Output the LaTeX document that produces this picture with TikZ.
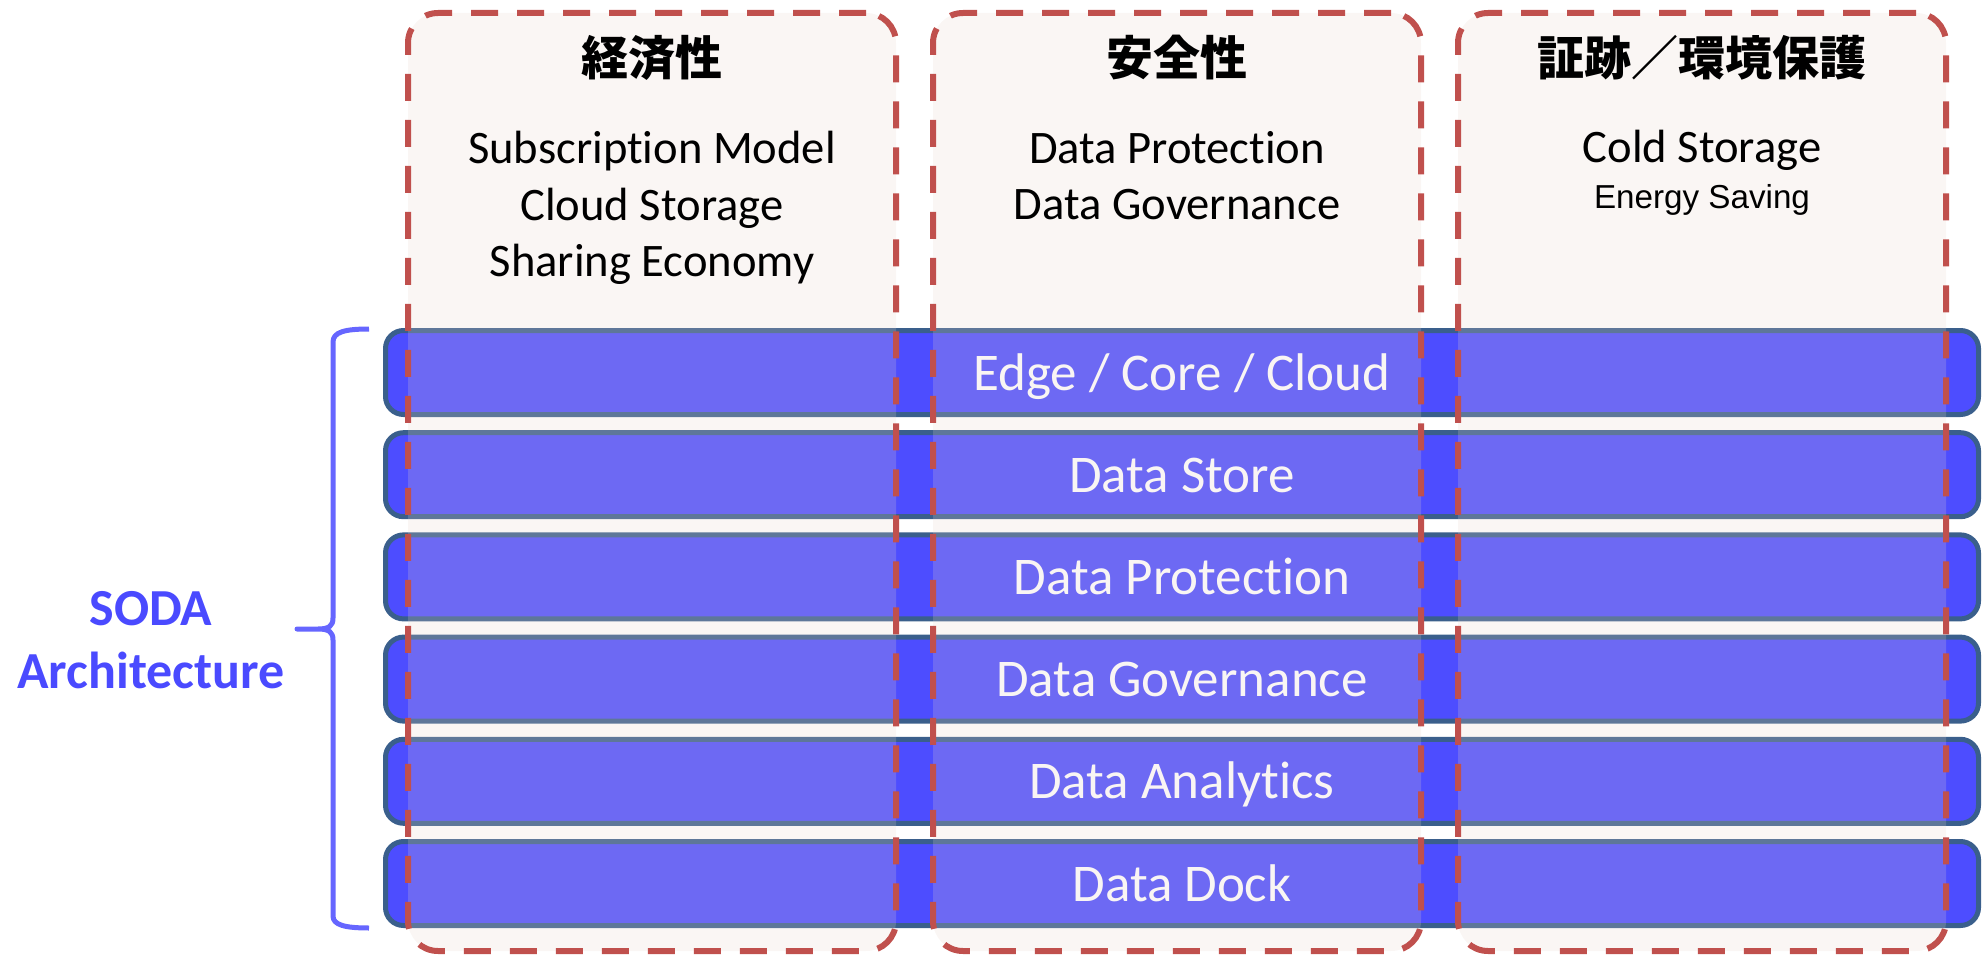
\documentclass[tikz,border=0pt]{standalone}
\usepackage{fontspec}
\setmainfont{Carlito}[Ligatures={NoCommon}]
\newfontfamily\cjkfont{Noto Sans CJK JP}
\newfontfamily\arialfont{Liberation Sans}

\definecolor{barblue}{RGB}{77,77,255}
\definecolor{barline}{RGB}{58,95,140}
\definecolor{dashred}{RGB}{192,80,77}
\definecolor{colfill}{RGB}{231,212,203}
\definecolor{bracecol}{RGB}{102,102,255}
\definecolor{sodablue}{RGB}{74,74,255}

\tikzset{
  layerbar/.style={draw=barline, line width=2.5pt, fill=barblue,
    rounded corners=9pt, minimum width=796.5pt, minimum height=42pt,
    inner sep=0pt, text=white, font=\fontsize{26.5}{32}\selectfont,
    text height=17.5pt, text depth=0pt},
  colbox/.style={draw=dashred, line width=3pt, dash pattern=on 13.5pt off 9.5pt,
    fill=colfill, fill opacity=0.21, rounded corners=15pt,
    minimum width=244pt, minimum height=469pt, inner sep=0pt},
  colhead/.style={anchor=base, inner sep=0pt, font=\cjkfont\bfseries\fontsize{23.5}{28}\selectfont},
  colitem/.style={anchor=base, inner sep=0pt, font=\fontsize{23.3}{28}\selectfont},
  smallitem/.style={anchor=base, inner sep=0pt, font=\arialfont\fontsize{16.6}{20}\selectfont},
  sodalabel/.style={anchor=base, inner sep=0pt, text=sodablue, font=\bfseries\fontsize{26}{31}\selectfont},
  bracket/.style={draw=bracecol, line width=2.5pt, line join=round}
}

\begin{document}
\begin{tikzpicture}[x=0.5pt,y=-0.5pt]
\useasboundingbox (0,0) rectangle (1986,957);

% architecture layers
\node[layerbar] (bar1) at (1182,372.5) {Edge / Core / Cloud};
\node[layerbar] (bar2) at (1182,474.7) {Data Store};
\node[layerbar] (bar3) at (1182,576.9) {Data Protection};
\node[layerbar] (bar4) at (1182,679.1) {Data Governance};
\node[layerbar] (bar5) at (1182,781.3) {Data Analytics};
\node[layerbar] (bar6) at (1182,883.5) {Data Dock};

% value columns laid over the layers
\node[colbox] (col1) at (652,482) {};
\node[colbox] (col2) at (1177,482) {};
\node[colbox] (col3) at (1702,482) {};

% column headings
\node[colhead] (h1) at (652,76) {経済性};
\node[colhead] (h2) at (1177,76) {安全性};
\node[colhead] (h3) at (1702,76) {証跡／環境保護};

% column contents
\node[colitem] (c1a) at (652,164) {Subscription Model};
\node[colitem] (c1b) at (652,221) {Cloud Storage};
\node[colitem] (c1c) at (652,277) {Sharing Economy};
\node[colitem] (c2a) at (1177,164) {Data Protection};
\node[colitem] (c2b) at (1177,220) {Data Governance};
\node[colitem] (c3a) at (1702,163) {Cold Storage};
\node[smallitem] (c3b) at (1702,209) {Energy Saving};

% left brace and its label
\coordinate (btop) at (369,329);
\coordinate (btip) at (297,629);
\coordinate (bbot) at (369,928);
\draw[bracket] (btop) .. controls (345,329) and (333,332) .. (333,342)
  -- (333,618) .. controls (333,626) and (329,629) .. (318,629) -- (btip)
  -- (318,629) .. controls (329,629) and (333,632) .. (333,640)
  -- (333,916) .. controls (333,925) and (345,928) .. (bbot);

\node[sodalabel] (soda) at (151,625) {SODA};
\node[sodalabel] (arch) at (151,688) {Architecture};
\end{tikzpicture}
\end{document}
